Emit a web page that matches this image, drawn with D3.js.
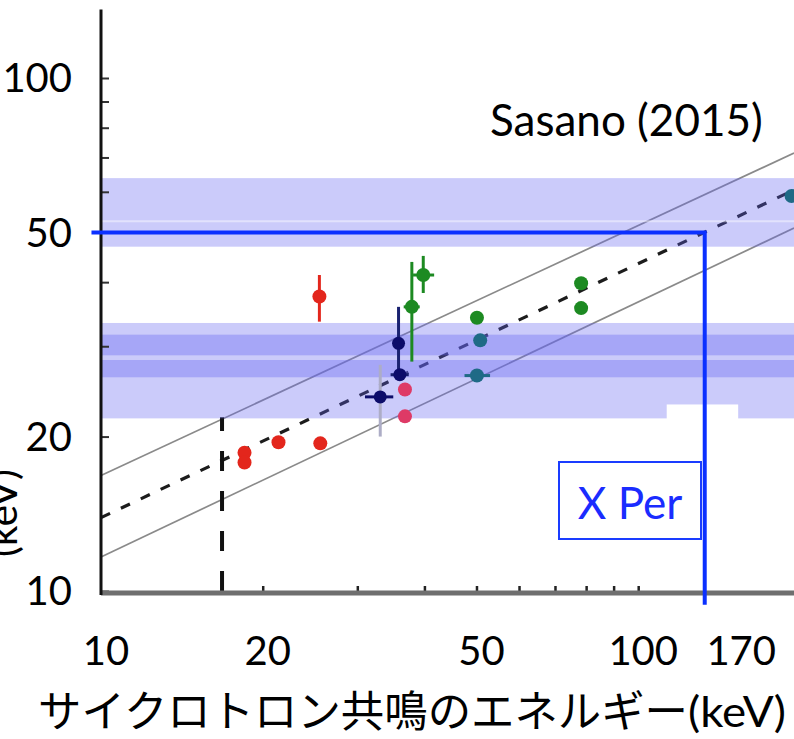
<!DOCTYPE html>
<html>
<head>
<meta charset="utf-8">
<script src="https://cdn.jsdelivr.net/npm/d3@7"></script>
<style>
  html, body { margin: 0; padding: 0; background: #fff; }
  svg { display: block; }
</style>
</head>
<body>
<svg id="chart" width="794" height="739"></svg>
<script>
// Plasma temperature vs. cyclotron resonance energy, log-log

const xTickLabels = [10, 20, 50, 100, 170];
const yTickLabels = [10, 20, 50, 100];
const xTitle = "サイクロトロン共鳴のエネルギー";
const xUnit = "(keV)";
const yTitle = "(keV)";
const refLabel = "Sasano (2015)";
const sourceLabel = "X Per";

// Empirical relation: best fit (dashed) and its envelope, [E_cyc, kT]
const fitLine   = [[10, 13.9], [195, 60.5]];
const upperLine = [[10, 16.8], [195, 71.4]];
const lowerLine = [[10, 11.65], [195, 51.0]];
// vertical marker at the lowest cyclotron energy
const markerLine = [[16.8, 10], [16.8, 21.8]];
// X Per: temperature 50 keV read across to the cyclotron energy
const xperPath = [[9.6, 50], [133, 50], [133, 9.4]];

// Temperature bands, [low, high] in keV
const bandsOuter = [[46.9, 63.8], [21.7, 33.3]];
const bandsInner = [[28.8, 31.6], [26.1, 28.2]];
const bandSeams  = [52.6];

// Sources: [E_cyc, kT, kT_lo, kT_hi, E_lo, E_hi]
const redPoints = [
  [18.5, 18.6], [18.5, 17.8], [21.4, 19.5], [25.6, 19.4],
  [25.5, 37.5, 33.5, 41.3]
];
const pinkPoints = [
  [36.8, 24.7], [36.8, 21.9]
];
const navyPoints = [
  [35.8, 30.4, 26.3, 35.8],
  [36.0, 26.4, null, null, 34.6, 37.4]
];
const navyFaintBarPoints = [
  [33.1, 23.9, 20.0, 27.6, 31.0, 35.0]
];
const greenPoints = [
  [39.8, 41.3, 38.1, 45.0, 38.1, 41.7],
  [37.9, 35.8, 28.0, 43.8, 36.6, 39.2],
  [50.1, 34.1], [78.3, 39.8], [78.3, 35.6]
];
const tealPoints = [
  [50.8, 30.8], [50.1, 26.3, null, null, 47.5, 53.0], [193, 58.9]
];

const W = 794, H = 739;
const svg = d3.select("#chart");
svg.append("rect").attr("width", W).attr("height", H).attr("fill", "#fff");

const x = d3.scaleLog().domain([10, 195]).range([101, 794]);
const y = d3.scaleLog().domain([10, 100]).range([591, 78]);
const line = d3.line().x(d => x(d[0])).y(d => y(d[1]));

// --- relation lines ---
const gLines = svg.append("g");
[upperLine, lowerLine].forEach(l => {
  gLines.append("path").attr("d", line(l))
    .attr("fill", "none").attr("stroke", "#8a8a8a").attr("stroke-width", 1.7);
});
gLines.append("path").attr("d", line(fitLine))
  .attr("fill", "none").attr("stroke", "#1c1c1c").attr("stroke-width", 3.2)
  .attr("stroke-dasharray", "10,12");
gLines.append("path").attr("d", line(markerLine))
  .attr("fill", "none").attr("stroke", "#111").attr("stroke-width", 4)
  .attr("stroke-dasharray", "20,20");

// --- temperature bands (translucent, over the relation lines) ---
const gBands = svg.append("g");
bandsOuter.forEach(b => {
  gBands.append("rect")
    .attr("x", x.range()[0]).attr("width", x.range()[1] - x.range()[0])
    .attr("y", y(b[1])).attr("height", y(b[0]) - y(b[1]))
    .attr("fill", "rgb(100,100,240)").attr("fill-opacity", 0.335);
});
bandsInner.forEach(b => {
  gBands.append("rect")
    .attr("x", x.range()[0]).attr("width", x.range()[1] - x.range()[0])
    .attr("y", y(b[1])).attr("height", y(b[0]) - y(b[1]))
    .attr("fill", "rgb(100,100,240)").attr("fill-opacity", 0.36);
});
bandSeams.forEach(v => {
  gBands.append("line")
    .attr("x1", x.range()[0]).attr("x2", x.range()[1])
    .attr("y1", y(v)).attr("y2", y(v))
    .attr("stroke", "#fff").attr("stroke-opacity", 0.45).attr("stroke-width", 2);
});

// --- sources ---
const groups = [
  { data: redPoints, color: "#e3261c", bar: "#e3261c", r: 7 },
  { data: pinkPoints, color: "#de3a66", bar: "#de3a66", r: 7 },
  { data: navyFaintBarPoints, color: "#0c0c6a", bar: "#0c0c6a", vbar: "#adadc6", r: 6.5 },
  { data: navyPoints, color: "#0c0c6a", bar: "#1a2270", r: 6.5 },
  { data: greenPoints, color: "#1d8a22", bar: "#1d8a22", r: 7 },
  { data: tealPoints, color: "#1f6a86", bar: "#1f6a86", r: 7 }
];
const gPts = svg.append("g");
groups.forEach(gr => {
  gr.data.forEach(d => {
    if (d[2] != null) {
      gPts.append("line")
        .attr("x1", x(d[0])).attr("x2", x(d[0]))
        .attr("y1", y(d[2])).attr("y2", y(d[3]))
        .attr("stroke", gr.vbar || gr.bar).attr("stroke-width", 3);
    }
    if (d[4] != null) {
      gPts.append("line")
        .attr("x1", x(d[4])).attr("x2", x(d[5]))
        .attr("y1", y(d[1])).attr("y2", y(d[1]))
        .attr("stroke", gr.bar).attr("stroke-width", 3);
    }
    gPts.append("circle")
      .attr("cx", x(d[0])).attr("cy", y(d[1])).attr("r", gr.r)
      .attr("fill", gr.color);
  });
});

// --- axes ---
const gAx = svg.append("g");
gAx.append("g")
  .attr("transform", `translate(${x(10)},0)`)
  .call(d3.axisRight(y).tickValues(y.ticks()).tickSize(8).tickSizeOuter(0).tickFormat(""))
  .call(g => g.select(".domain").remove())
  .call(g => g.selectAll(".tick line").attr("stroke", "#333").attr("stroke-width", 2));
gAx.append("g")
  .attr("transform", `translate(0,${y(10) + 1})`)
  .call(d3.axisTop(x).tickValues(x.ticks().filter(v => v > 10)).tickSize(6).tickSizeOuter(0).tickFormat(""))
  .call(g => g.select(".domain").remove())
  .call(g => g.selectAll(".tick line").attr("stroke", "#222").attr("stroke-width", 2.5));
gAx.append("line")
  .attr("x1", x(10)).attr("x2", W)
  .attr("y1", y(10) + 2).attr("y2", y(10) + 2)
  .attr("stroke", "#6f6f6f").attr("stroke-width", 5);
gAx.append("line")
  .attr("x1", x(10)).attr("x2", x(10))
  .attr("y1", y(136)).attr("y2", y(10) + 4)
  .attr("stroke", "#111").attr("stroke-width", 3);

// tick labels
const latin = "Lato, 'Open Sans', sans-serif";
svg.append("g").selectAll("text").data(yTickLabels).join("text")
  .attr("x", 72).attr("y", d => y(d))
  .attr("dy", "0.36em")
  .attr("text-anchor", "end")
  .attr("font-family", latin).attr("font-size", 40).attr("fill", "#000")
  .text(d => d);
svg.append("g").selectAll("text").data(xTickLabels).join("text")
  .attr("x", (d, i) => i === xTickLabels.length - 1 ? W - 18 : x(d) + 5)
  .attr("y", 665)
  .attr("text-anchor", (d, i) => i === xTickLabels.length - 1 ? "end" : "middle")
  .attr("font-family", latin).attr("font-size", 40).attr("fill", "#000")
  .text(d => d);

// axis titles
const xt = svg.append("g").attr("transform", "translate(38,727) scale(1,1.06)")
  .append("text").attr("x", 0).attr("y", 0).attr("fill", "#000");
xt.append("tspan").attr("font-family", "'Noto Sans CJK JP', sans-serif")
  .attr("font-size", 41)
  .attr("textLength", 650).attr("lengthAdjust", "spacingAndGlyphs")
  .text(xTitle);
xt.append("tspan").attr("font-family", latin).attr("font-size", 40)
  .attr("textLength", 98).attr("lengthAdjust", "spacingAndGlyphs")
  .text(xUnit);

svg.append("text")
  .attr("transform", "translate(17,513) rotate(-90)")
  .attr("text-anchor", "middle")
  .attr("font-family", latin).attr("font-size", 41).attr("fill", "#000")
  .text(yTitle);

// white patches
svg.append("rect")
  .attr("x", x(113)).attr("width", x(153.5) - x(113))
  .attr("y", y(23.1)).attr("height", y(19.97) - y(23.1))
  .attr("fill", "#fff");
svg.append("rect").attr("x", 478).attr("y", 92).attr("width", 310).attr("height", 62)
  .attr("fill", "#fff");
svg.append("text").attr("x", 490).attr("y", 136)
  .attr("font-family", latin).attr("font-size", 44).attr("fill", "#000")
  .text(refLabel);

// X Per reading
svg.append("path").attr("d", line(xperPath))
  .attr("fill", "none").attr("stroke", "#0b30ff").attr("stroke-width", 4)
  .attr("stroke-linejoin", "miter");
svg.append("rect").attr("x", 559).attr("y", 462).attr("width", 142).attr("height", 77)
  .attr("fill", "#fff").attr("stroke", "#1a3cff").attr("stroke-width", 2);
svg.append("text").attr("x", 630).attr("y", 519)
  .attr("text-anchor", "middle")
  .attr("font-family", latin).attr("font-size", 44).attr("fill", "#1a2cff")
  .text(sourceLabel);
</script>
</body>
</html>
